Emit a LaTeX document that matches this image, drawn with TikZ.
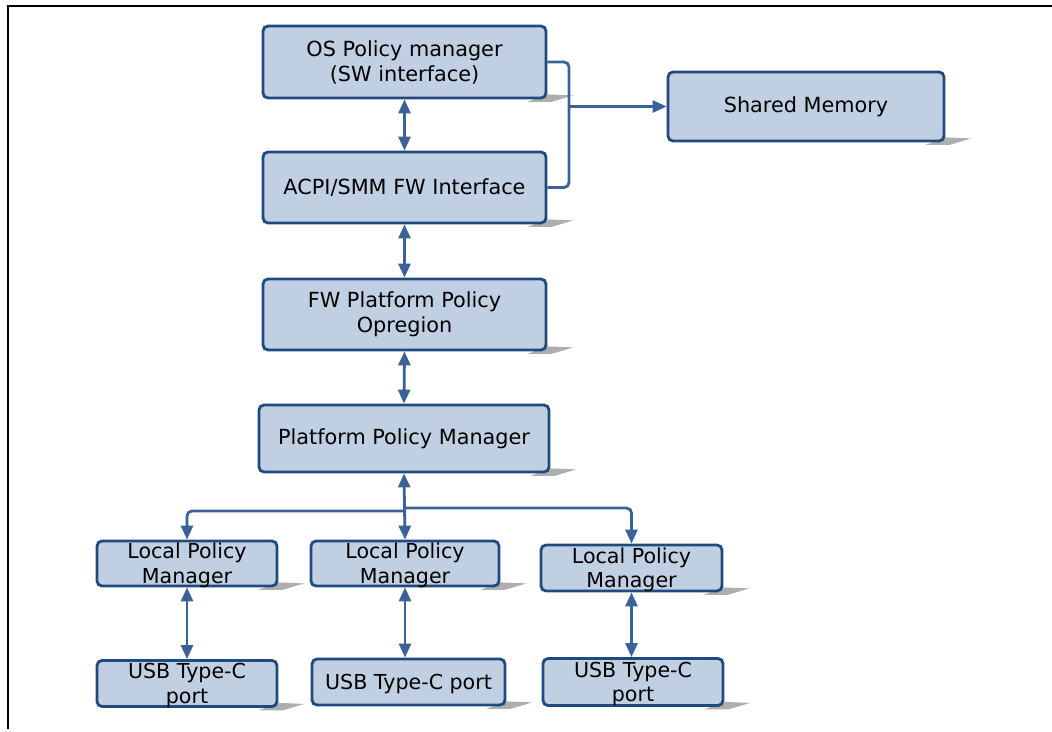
\documentclass[tikz,border=0pt]{standalone}
\usepackage{fontspec}
\setmainfont{DejaVu Sans}
\usetikzlibrary{arrows.meta,calc}
\pgfdeclarelayer{bg}
\pgfsetlayers{bg,main}
\definecolor{boxfill}{HTML}{C0D0E2}
\definecolor{boxline}{HTML}{1F4A80}
\definecolor{conn}{HTML}{3A6296}
\definecolor{shadowc}{HTML}{AEAEAE}
\tikzset{
  blk/.style={draw=boxline, fill=boxfill, line width=2.8pt, rounded corners=5pt,
    inner sep=0pt, align=center, text=black},
  bigtxt/.style={font=\fontsize{20.8}{25}\selectfont},
  smalltxt/.style={font=\fontsize{20.6}{24.5}\selectfont},
  txt/.style={label={[smalltxt,align=center,inner sep=0pt,yshift=-2pt]center:#1}},
  wire/.style={draw=conn, line width=2.8pt, rounded corners=5pt},
  tip/.style={-{Triangle[length=14pt,width=12pt]}},
  biarrow/.style={wire, {Triangle[length=14pt,width=12pt]}-{Triangle[length=14pt,width=12pt]}},
}
\begin{document}
\begin{tikzpicture}[x=1pt,y=-1pt]
\useasboundingbox (0,0) rectangle (1052,731);
% frame
\draw[line width=2pt, line cap=rect] (1052,5.5) -- (7.5,5.5) -- (7.5,728);

% boxes
\node[blk,bigtxt,minimum width=283,minimum height=72] (os) at (404.5,62) {OS Policy manager\\(SW interface)};
\node[blk,bigtxt,minimum width=283,minimum height=71] (acpi) at (404.5,187.5) {ACPI/SMM FW Interface};
\node[blk,bigtxt,minimum width=283,minimum height=71] (fw) at (404.5,314.5) {FW Platform Policy\\Opregion};
\node[blk,bigtxt,minimum width=290,minimum height=67] (ppm) at (404,438.5) {Platform Policy Manager};
\node[blk,bigtxt,minimum width=276,minimum height=69] (sm) at (806,106.5) {Shared Memory};

\node[blk,minimum width=180,minimum height=45,txt={Local Policy\\Manager}] (lpm1) at (187,563.5) {};
\node[blk,minimum width=188,minimum height=45,txt={Local Policy\\Manager}] (lpm2) at (405,563.5) {};
\node[blk,minimum width=181,minimum height=46,txt={Local Policy\\Manager}] (lpm3) at (631.5,568) {};
\node[blk,minimum width=180,minimum height=46,txt={USB Type-C\\port}] (usb1) at (187,683.5) {};
\node[blk,minimum width=193,minimum height=46,txt={USB Type-C port}] (usb2) at (408.5,682) {};
\node[blk,minimum width=180,minimum height=47,txt={USB Type-C\\port}] (usb3) at (633,682) {};

% shadows
\begin{pgfonlayer}{bg}
\foreach \n in {os,acpi,fw,ppm,sm,lpm1,lpm2,lpm3,usb1,usb2,usb3}{
  \fill[shadowc] ($(\n.south east)+(-20,2.5)$) -- ($(\n.south east)+(4,2.5)$)
     -- ($(\n.south east)+(26,-4)$) -- ($(\n.south east)+(0,-5)$) -- cycle;
}
\end{pgfonlayer}

% vertical chain
\draw[biarrow] (os.south) -- (acpi.north);
\draw[biarrow] (acpi.south) -- (fw.north);
\draw[biarrow] (fw.south) -- (ppm.north);

% to shared memory
\coordinate (jx) at (569,0);
\draw[wire] (os.east) -- (os.east -| jx) -- (acpi.east -| jx) -- (acpi.east);
\draw[wire,tip] (sm.west -| jx) -- (sm.west);

% tree
\draw[biarrow] (ppm.south) -- (lpm2.north);
\coordinate (h1) at (404,511);
\coordinate (h3) at (404,508);
\draw[wire,tip] (h1) -- (h1 -| lpm1.north) -- (lpm1.north);
\draw[wire,tip] (h3) -- (h3 -| lpm3.north) -- (lpm3.north);

\draw[biarrow] (lpm1.south) -- (usb1.north);
\draw[biarrow] (lpm2.south) -- (lpm2.south |- usb2.north);
\draw[biarrow] (lpm3.south) -- (lpm3.south |- usb3.north);
\end{tikzpicture}
\end{document}
